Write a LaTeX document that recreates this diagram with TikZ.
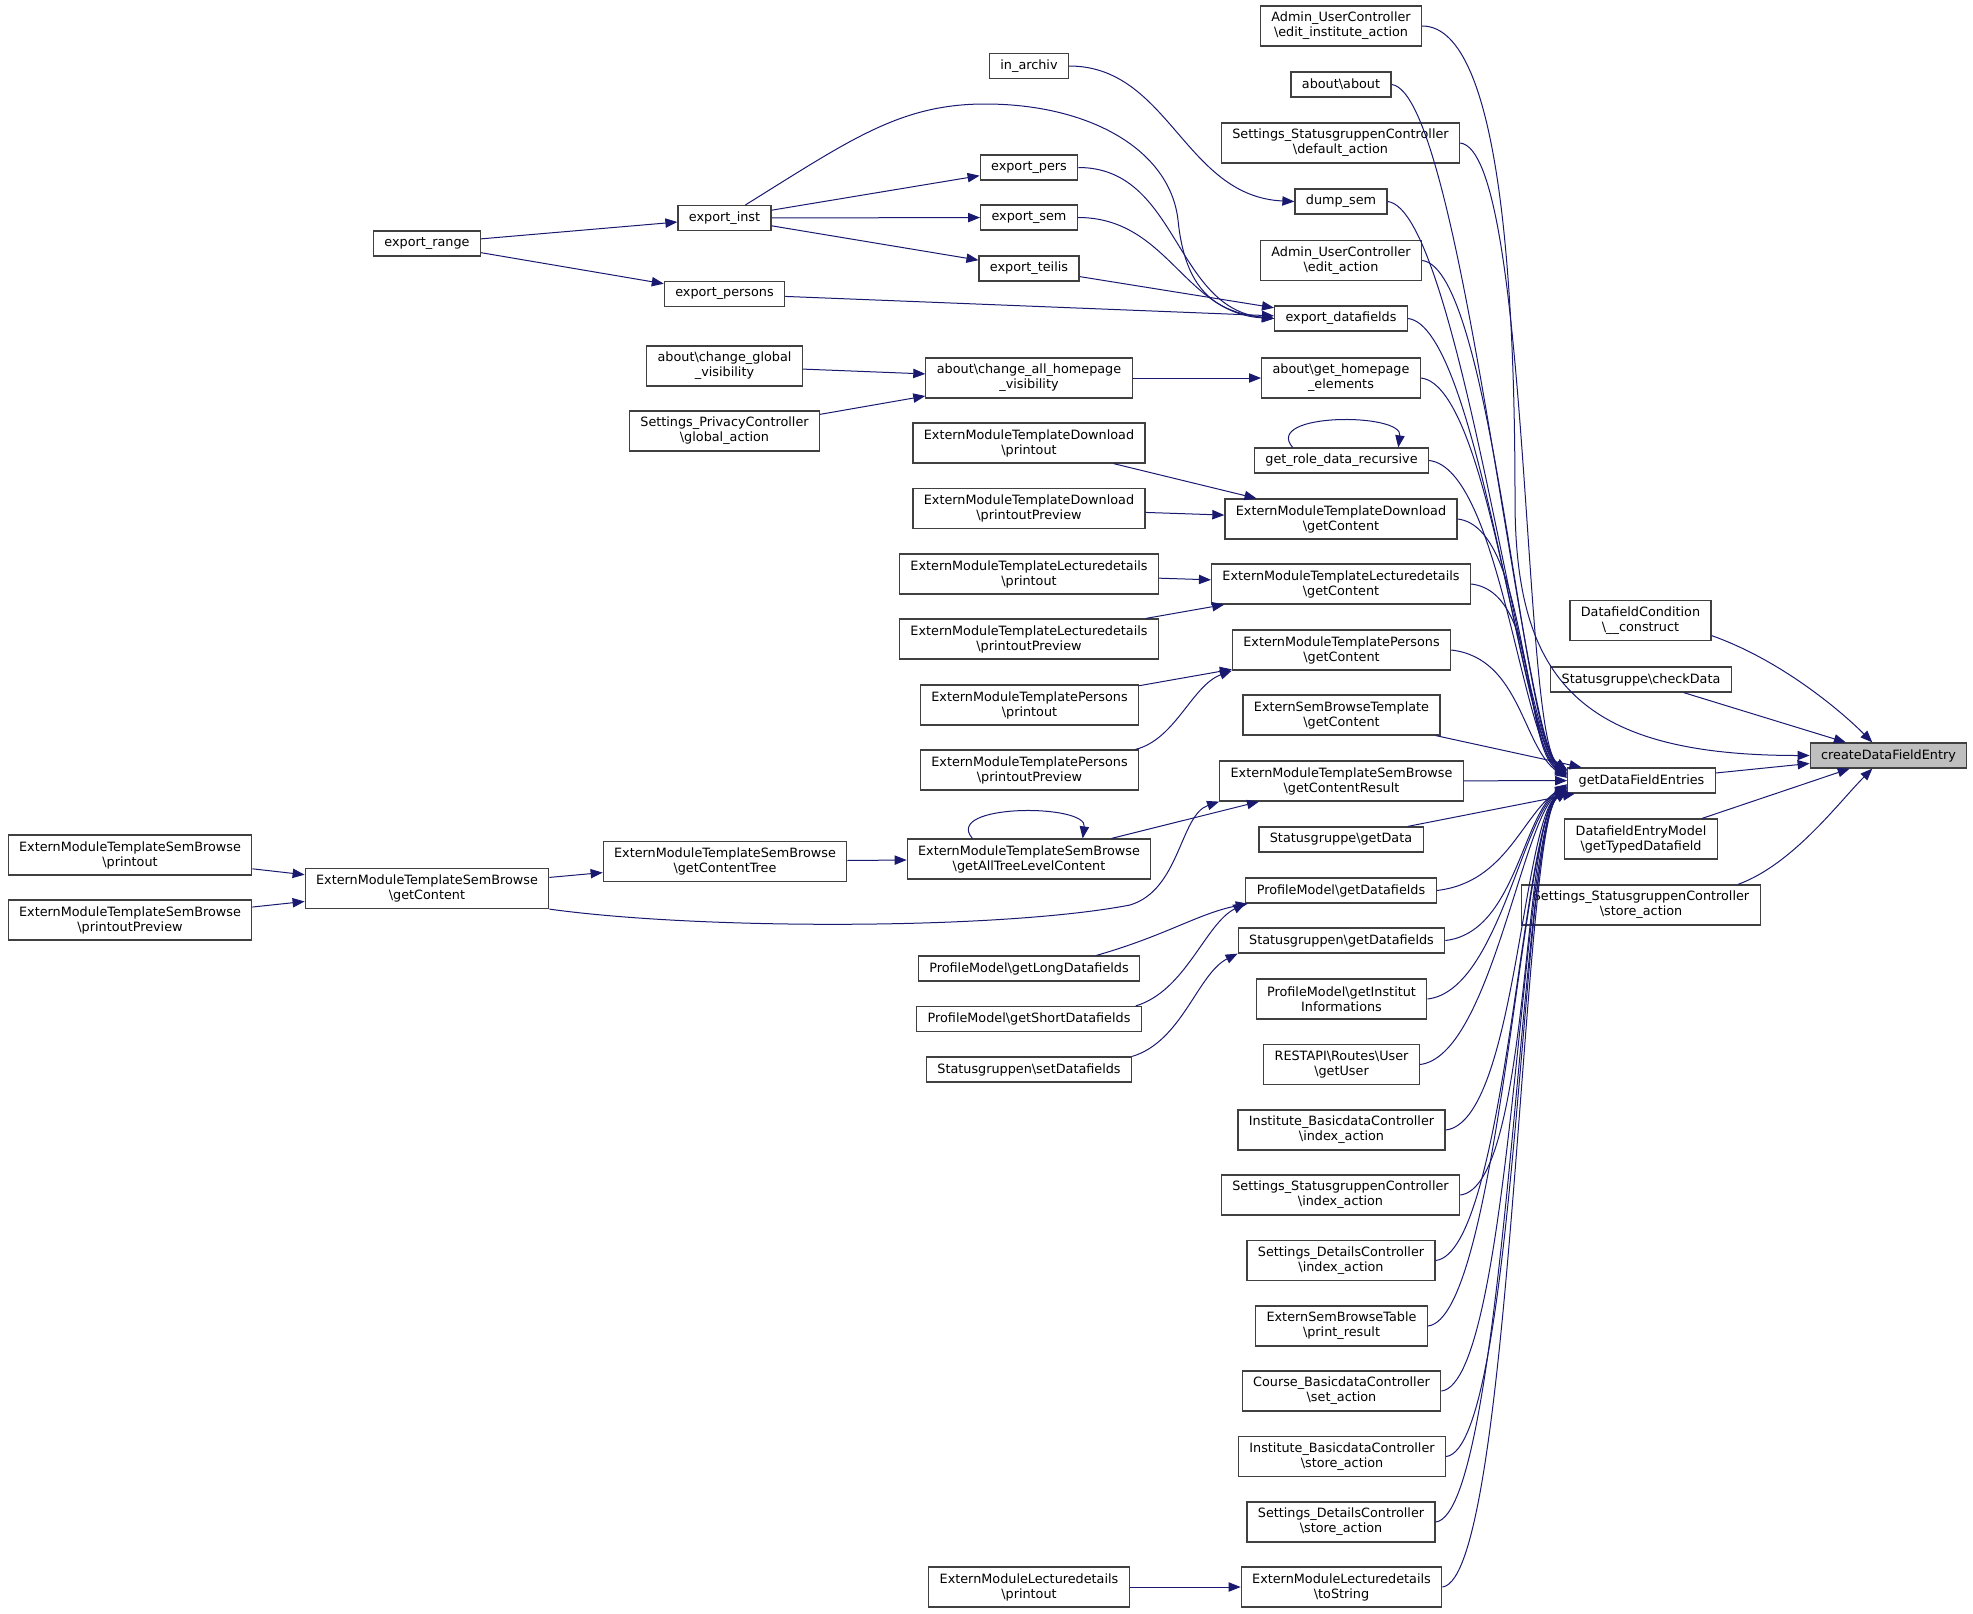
\documentclass[tikz,border=0pt]{standalone}
\usepackage{fontspec}
\setmainfont{DejaVu Sans}
\usepackage{tikz}
\usetikzlibrary{arrows.meta}
\newcommand{\bsl}{\textbackslash}
\definecolor{edgeblue}{RGB}{25,25,112}
\definecolor{nodegray}{RGB}{191,191,191}
\definecolor{framegray}{RGB}{64,64,64}
\tikzset{
  fn/.style={draw=framegray, fill=white, line width=0.9pt, rectangle, align=center, inner xsep=8.2pt, inner ysep=1pt, minimum height=18.75pt, font=\fontsize{9.6}{11.25}\selectfont},
  fn2/.style={fn, minimum height=30pt},
  call/.style={draw=edgeblue, line width=0.75pt, -{Triangle[length=9pt,width=7pt]}}
}
\begin{document}
\begin{tikzpicture}[x=0.75pt, y=-0.75pt]
  \useasboundingbox (0,0) rectangle (1973,1613);
  \node[fn, fill=nodegray] (cdfe) at (1888.5,755.5) {createDataFieldEntry};

  \node[fn2] (dcc) at (1640.5,620.5) {DatafieldCondition\\\bsl\_\_construct};
  \node[fn] (sgcd) at (1641,679.5) {Statusgruppe\bsl checkData};
  \node[fn] (gdfe) at (1641.5,780.5) {getDataFieldEntries};
  \node[fn2] (demt) at (1641,839) {DatafieldEntryModel\\\bsl getTypedDatafield};
  \node[fn2] (sscs) at (1641,905) {Settings\_StatusgruppenController\\\bsl store\_action};

  \node[fn2] (auei) at (1341,26) {Admin\_UserController\\\bsl edit\_institute\_action};
  \node[fn] (aab) at (1341,84.5) {about\bsl about};
  \node[fn2] (sscd) at (1340.5,143) {Settings\_StatusgruppenController\\\bsl default\_action};
  \node[fn] (dump) at (1341,201.5) {dump\_sem};
  \node[fn2] (aue) at (1341,260.5) {Admin\_UserController\\\bsl edit\_action};
  \node[fn] (expdf) at (1341,318.5) {export\_datafields};
  \node[fn2] (aghe) at (1341,378) {about\bsl get\_homepage\\\_elements};
  \node[fn] (grdr) at (1341.5,460.5) {get\_role\_data\_recursive};
  \node[fn2] (emtd) at (1341,519) {ExternModuleTemplateDownload\\\bsl getContent};
  \node[fn2] (emtl) at (1341,584) {ExternModuleTemplateLecturedetails\\\bsl getContent};
  \node[fn2] (emtp) at (1341.5,650) {ExternModuleTemplatePersons\\\bsl getContent};
  \node[fn2] (esbt) at (1341.5,715) {ExternSemBrowseTemplate\\\bsl getContent};
  \node[fn2] (emtsr) at (1341.5,781) {ExternModuleTemplateSemBrowse\\\bsl getContentResult};
  \node[fn] (sgd) at (1341,839.5) {Statusgruppe\bsl getData};
  \node[fn] (pmgd) at (1341,890.5) {ProfileModel\bsl getDatafields};
  \node[fn] (sgngd) at (1341.5,940.5) {Statusgruppen\bsl getDatafields};
  \node[fn2] (pmgi) at (1341.5,999) {ProfileModel\bsl getInstitut\\Informations};
  \node[fn2] (rest) at (1341.5,1064.5) {RESTAPI\bsl Routes\bsl User\\\bsl getUser};
  \node[fn2] (ibci) at (1341.5,1130) {Institute\_BasicdataController\\\bsl index\_action};
  \node[fn2] (ssci) at (1340.5,1195) {Settings\_StatusgruppenController\\\bsl index\_action};
  \node[fn2] (sdci) at (1341,1260.5) {Settings\_DetailsController\\\bsl index\_action};
  \node[fn2] (esbtp) at (1341.5,1326) {ExternSemBrowseTable\\\bsl print\_result};
  \node[fn2] (cbcs) at (1341.5,1391) {Course\_BasicdataController\\\bsl set\_action};
  \node[fn2] (ibcs) at (1342,1456.5) {Institute\_BasicdataController\\\bsl store\_action};
  \node[fn2] (sdcs) at (1341,1522) {Settings\_DetailsController\\\bsl store\_action};
  \node[fn2] (emlt) at (1341.5,1587) {ExternModuleLecturedetails\\\bsl toString};

  \node[fn] (inarch) at (1029,66) {in\_archiv};
  \node[fn] (exppers) at (1029,167.5) {export\_pers};
  \node[fn] (expsem) at (1029,217.5) {export\_sem};
  \node[fn] (expteil) at (1029,268.5) {export\_teilis};
  \node[fn2] (cahv) at (1029,378) {about\bsl change\_all\_homepage\\\_visibility};
  \node[fn2] (emtdp) at (1029,443) {ExternModuleTemplateDownload\\\bsl printout};
  \node[fn2] (emtdpp) at (1029,508.5) {ExternModuleTemplateDownload\\\bsl printoutPreview};
  \node[fn2] (emtlp) at (1029,574) {ExternModuleTemplateLecturedetails\\\bsl printout};
  \node[fn2] (emtlpp) at (1029,639) {ExternModuleTemplateLecturedetails\\\bsl printoutPreview};
  \node[fn2] (emtpp) at (1029.5,705) {ExternModuleTemplatePersons\\\bsl printout};
  \node[fn2] (emtppp) at (1029.5,770) {ExternModuleTemplatePersons\\\bsl printoutPreview};
  \node[fn2] (emtsa) at (1029,859) {ExternModuleTemplateSemBrowse\\\bsl getAllTreeLevelContent};
  \node[fn] (pmgl) at (1029,968.5) {ProfileModel\bsl getLongDatafields};
  \node[fn] (pmgs) at (1029,1019) {ProfileModel\bsl getShortDatafields};
  \node[fn] (sgsd) at (1029,1069.5) {Statusgruppen\bsl setDatafields};
  \node[fn2] (emlp) at (1029,1587) {ExternModuleLecturedetails\\\bsl printout};

  \node[fn] (expinst) at (724.5,218) {export\_inst};
  \node[fn] (expperson) at (724.5,294) {export\_persons};
  \node[fn2] (acgv) at (724.5,366) {about\bsl change\_global\\\_visibility};
  \node[fn2] (spcg) at (724.5,431) {Settings\_PrivacyController\\\bsl global\_action};
  \node[fn2] (emtsct) at (725,861.5) {ExternModuleTemplateSemBrowse\\\bsl getContentTree};

  \node[fn] (exprange) at (427,243.5) {export\_range};
  \node[fn2] (emtsc) at (427,888.5) {ExternModuleTemplateSemBrowse\\\bsl getContent};

  \node[fn2] (emtsp) at (130,855) {ExternModuleTemplateSemBrowse\\\bsl printout};
  \node[fn2] (emtspp) at (130,920) {ExternModuleTemplateSemBrowse\\\bsl printoutPreview};

  % into createDataFieldEntry
  \draw[call] (gdfe) -- (cdfe);
  \draw[call] (sgcd) -- (cdfe);
  \draw[call] (demt) -- (cdfe);
  \draw[call] (dcc.-12) .. controls +(68,24) and +(-33,-33) .. (cdfe.141);
  \draw[call] (sscs.12) .. controls +(55,-20) and +(-33,33) .. (cdfe.219);
  \draw[call] (auei.east) .. controls +(80,0) and +(0,-200) .. (1515,500) .. controls +(0,180) and +(-230,0) .. (cdfe.west);

  % into getDataFieldEntries
  \foreach \n/\a in {aab/172,sscd/172,dump/172,aue/172,expdf/173,aghe/174,grdr/175,emtd/176,emtl/177,emtp/178}
    \draw[call] (\n.east) .. controls +(70,8) and +(-45,-30) .. (gdfe.\a);
  \foreach \n/\a in {pmgd/183,sgngd/183,pmgi/184,rest/185,ibci/186,ssci/186,sdci/187,esbtp/187,cbcs/188,ibcs/188,sdcs/188,emlt/188}
    \draw[call] (\n.east) .. controls +(70,-8) and +(-45,30) .. (gdfe.\a);
  \draw[call] (esbt) -- (gdfe);
  \draw[call] (emtsr) -- (gdfe);
  \draw[call] (sgd) -- (gdfe);

  % export chain
  \draw[call] (exprange) -- (expinst);
  \draw[call] (exprange) -- (expperson);
  \draw[call] (expinst) -- (exppers);
  \draw[call] (expinst) -- (expsem);
  \draw[call] (expinst) -- (expteil);
  \draw[call] (expinst.32) .. controls (850,140) and (900,104) .. (985,104) .. controls (1090,104) and (1170,150) .. (1178,220) .. controls (1185,290) and (1215,312) .. (expdf.west);
  \draw[call] (expperson) -- (expdf);
  \draw[call] (exppers.east) .. controls +(100,0) and +(-100,-10) .. (expdf.west);
  \draw[call] (expsem.east) .. controls +(90,0) and +(-90,-5) .. (expdf.west);
  \draw[call] (expteil) -- (expdf);
  \draw[call] (inarch.east) .. controls +(100,0) and +(-110,-5) .. (dump.west);

  \draw[call] (acgv) -- (cahv);
  \draw[call] (spcg) -- (cahv);
  \draw[call] (cahv) -- (aghe);
  \draw[call] (grdr.165) .. controls +(-30,-35) and +(5,-35) .. (grdr.13);

  % extern templates
  \draw[call] (emtdp) -- (emtd);
  \draw[call] (emtdpp) -- (emtd);
  \draw[call] (emtlp) -- (emtl);
  \draw[call] (emtlpp) -- (emtl);
  \draw[call] (emtpp) -- (emtp);
  \draw[call] (emtppp.11) .. controls +(40,-10) and +(-40,15) .. (emtp.south west);
  \draw[call] (emtsp) -- (emtsc);
  \draw[call] (emtspp) -- (emtsc);
  \draw[call] (emtsc) -- (emtsct);
  \draw[call] (emtsct) -- (emtsa);
  \draw[call] (emtsa) -- (emtsr);
  \draw[call] (emtsa.160) .. controls +(-30,-35) and +(5,-35) .. (emtsa.21);
  \draw[call] (emtsc.south east) .. controls (700,930) and (1000,930) .. (1130,905) .. controls (1180,890) and (1180,815) .. (emtsr.south west);

  % datafields
  \draw[call] (pmgl.11) .. controls +(70,-20) and +(-50,10) .. (pmgd.188);
  \draw[call] (pmgs.7) .. controls +(50,-15) and +(-40,20) .. (pmgd.south west);
  \draw[call] (sgsd.north east) .. controls +(50,-15) and +(-40,20) .. (sgngd.south west);
  \draw[call] (emlp) -- (emlt);
\end{tikzpicture}
\end{document}
